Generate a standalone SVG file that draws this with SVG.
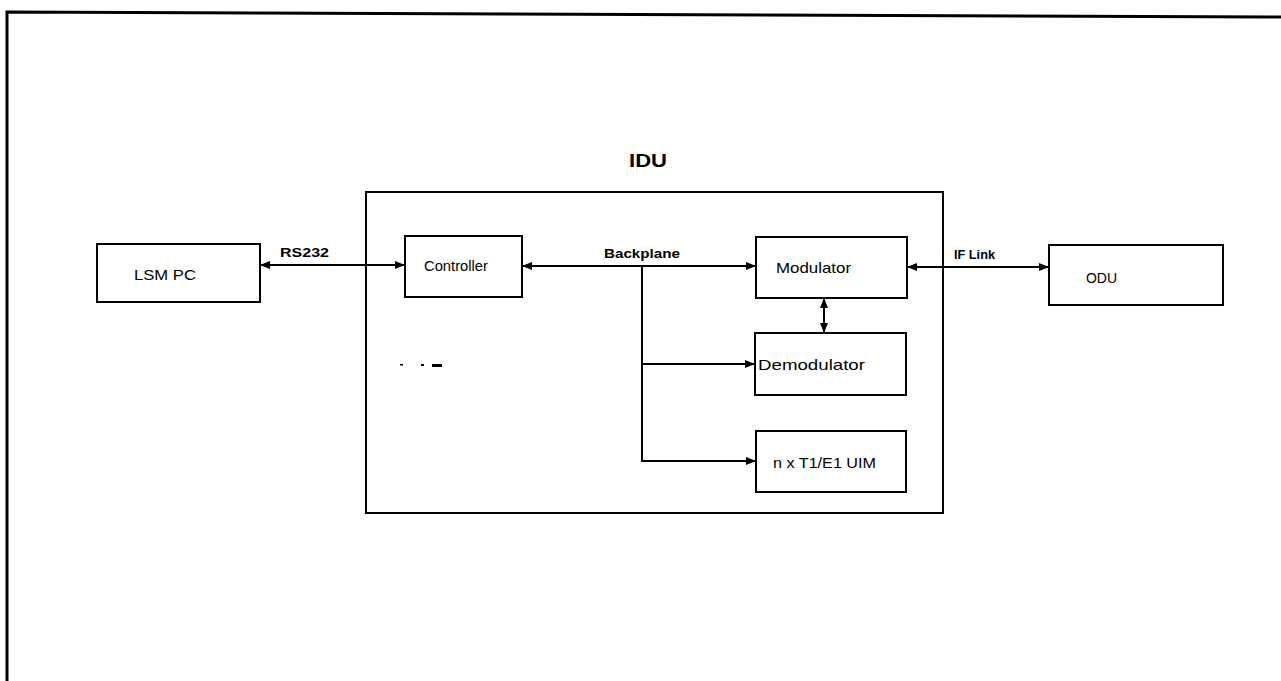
<svg xmlns="http://www.w3.org/2000/svg" width="1281" height="681" viewBox="0 0 1281 681">
<defs>
<style>
.box{fill:#fff;stroke:#000;stroke-width:2}
.ln{fill:none;stroke:#000;stroke-width:2}
.t{font-family:"Liberation Sans",Arial,sans-serif;font-size:15px;fill:#000}
.s{font-family:"Liberation Sans",Arial,sans-serif;font-size:12px;font-weight:bold;fill:#000}
</style>
<marker id="ah" viewBox="0 0 10 10" refX="9" refY="5" markerWidth="5" markerHeight="5" orient="auto-start-reverse" markerUnits="strokeWidth">
<path d="M0,1 L10,5 L0,9 z" fill="#000"/>
</marker>
</defs>
<rect width="1281" height="681" fill="#fff"/>
<g id="frame">
<path d="M7,681 L7,12 L1281,17" fill="none" stroke="#000" stroke-width="3"/>
</g>
<g id="idu">
<rect class="box" x="366" y="192" width="577" height="321"/>
<text x="629" y="167" textLength="38" lengthAdjust="spacingAndGlyphs" font-family="Liberation Sans,Arial,sans-serif" font-size="19" font-weight="bold">IDU</text>
</g>
<g id="lsmpc">
<rect class="box" x="97" y="244" width="163" height="58"/>
<text class="t" x="134" y="280" textLength="62" lengthAdjust="spacingAndGlyphs">LSM PC</text>
</g>
<g id="controller">
<rect class="box" x="405" y="236" width="117" height="61"/>
<text class="t" x="424" y="271" textLength="64" lengthAdjust="spacingAndGlyphs">Controller</text>
</g>
<g id="modulator">
<rect class="box" x="756" y="237" width="151" height="61"/>
<text class="t" x="776" y="273" textLength="75" lengthAdjust="spacingAndGlyphs">Modulator</text>
</g>
<g id="demodulator">
<rect class="box" x="755" y="333" width="151" height="62"/>
<text class="t" x="758" y="370" textLength="107" lengthAdjust="spacingAndGlyphs">Demodulator</text>
</g>
<g id="uim">
<rect class="box" x="756" y="431" width="150" height="61"/>
<text class="t" x="773" y="468" textLength="103" lengthAdjust="spacingAndGlyphs">n x T1/E1 UIM</text>
</g>
<g id="odu">
<rect class="box" x="1049" y="245" width="174" height="60"/>
<text class="t" x="1086" y="283" textLength="31" lengthAdjust="spacingAndGlyphs">ODU</text>
</g>
<g id="connectors">
<line class="ln" x1="261" y1="265" x2="404" y2="265" marker-start="url(#ah)" marker-end="url(#ah)"/>
<line class="ln" x1="523" y1="266" x2="755" y2="266" marker-start="url(#ah)" marker-end="url(#ah)"/>
<polyline class="ln" points="642,266 642,461 755,461" marker-end="url(#ah)"/>
<line class="ln" x1="642" y1="364" x2="754" y2="364" marker-end="url(#ah)"/>
<line class="ln" x1="824" y1="299" x2="824" y2="332" marker-start="url(#ah)" marker-end="url(#ah)"/>
<line class="ln" x1="908" y1="267" x2="1048" y2="267" marker-start="url(#ah)" marker-end="url(#ah)"/>
<text class="s" x="280" y="257" textLength="49" lengthAdjust="spacingAndGlyphs">RS232</text>
<text class="s" x="604" y="258" textLength="76" lengthAdjust="spacingAndGlyphs">Backplane</text>
<text class="s" x="954" y="259" textLength="41" lengthAdjust="spacingAndGlyphs">IF Link</text>
</g>
<g id="marks">
<rect x="400" y="364" width="3" height="1.5" fill="#000"/>
<rect x="421" y="364" width="3" height="2" fill="#000"/>
<rect x="432" y="364" width="10" height="3" fill="#000"/>
</g>
</svg>
